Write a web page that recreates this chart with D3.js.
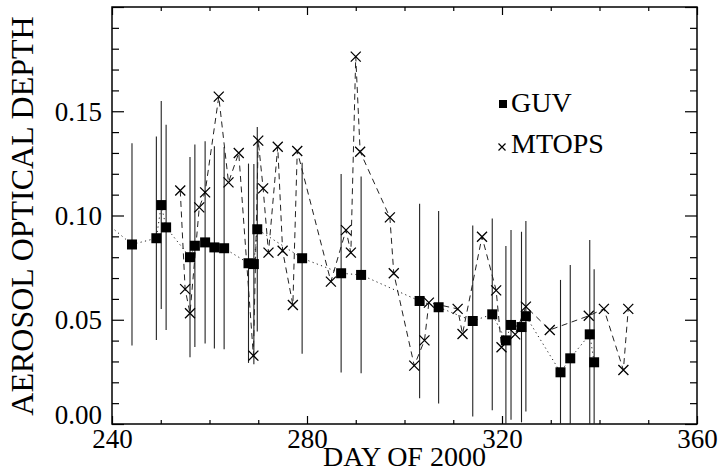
<!doctype html>
<html lang="en">
<head>
    <meta charset="UTF-8">
    <title>Aerosol optical depth, GUV and MTOPS, 2000</title>
    <style>
        body { margin: 0; background: #fff; }
        .chart { display: block; }
        text { font-family: "Liberation Serif", "Times New Roman", serif; fill: #000; }
        .axis path { display: none; }
        .axis line { stroke: #000; stroke-width: 1.2; }
    </style>
</head>
<body>
<svg class="chart"></svg>

<script src="https://d3js.org/d3.v7.min.js" charset="utf-8"></script>
<script>
    // GUV retrievals (day of year, AOD, error half-width). First point lies left of the frame.
    var guvDay = [237.0, 244.1, 249.1, 250.1, 251.1, 256.0, 257.0, 259.1, 261.0, 263.0, 268.0, 269.1, 269.8,
                  279.0, 287.0, 291.1, 303.1, 307.0, 314.0, 318.0, 320.8, 321.85, 324.0, 324.9, 332.0, 334.0,
                  338.0, 338.9];
    var guvAod = [0.100, 0.0861, 0.0891, 0.1050, 0.0943, 0.0800, 0.0855, 0.0871, 0.0847, 0.0843, 0.0771, 0.0767,
                  0.0934, 0.0795, 0.0723, 0.0715, 0.0590, 0.0560, 0.0494, 0.0526, 0.0401, 0.0475, 0.0465, 0.0517,
                  0.0248, 0.0315, 0.0430, 0.0296];
    var guvErr = [0.048, 0.0485, 0.0488, 0.0499, 0.0492, 0.0480, 0.0486, 0.0485, 0.0485, 0.0485, 0.0478, 0.0480,
                  0.0490, 0.0458, 0.0476, 0.0472, 0.0466, 0.0462, 0.0458, 0.0460, 0.0453, 0.0455, 0.0457, 0.0457,
                  0.0443, 0.0448, 0.0452, 0.0446];

    // MTOPS sun photometer
    var mtopsDay = [254.0, 255.0, 256.0, 257.9, 259.1, 261.9, 263.9, 266.0, 269.0, 270.0, 271.0, 272.1, 274.0,
                    275.0, 277.1, 278.0, 284.9, 288.0, 289.0, 290.0, 290.9, 297.0, 297.8, 302.0, 304.1, 305.0,
                    310.9, 311.9, 315.9, 318.8, 319.9, 322.7, 324.9, 329.8, 337.8, 340.9, 344.9, 345.9];
    var mtopsAod = [0.1120, 0.0647, 0.0531, 0.1039, 0.1111, 0.1570, 0.1159, 0.1300, 0.0328, 0.1359, 0.1130, 0.0822,
                    0.1330, 0.0831, 0.0571, 0.1309, 0.0683, 0.0930, 0.0822, 0.1762, 0.1306, 0.0991, 0.0723, 0.0280,
                    0.0401, 0.0582, 0.0552, 0.0432, 0.0898, 0.0641, 0.0368, 0.0430, 0.0563, 0.0451, 0.0519, 0.0552,
                    0.0259, 0.0552];

    var xMajor = [240, 280, 320, 360];
    var yMajor = [0.00, 0.05, 0.10, 0.15];

    var totalWidth = 720, totalHeight = 473;
    var margin = {top: 7, right: 23, bottom: 49, left: 112};
    var width = totalWidth - margin.left - margin.right;
    var height = totalHeight - margin.top - margin.bottom;

    var x = d3.scaleLinear().domain([240, 360]).range([0, width]);
    var y = d3.scaleLinear().domain([0, 0.2]).range([height, 0]);

    var svg = d3.select(".chart")
        .attr("width", totalWidth)
        .attr("height", totalHeight);

    var g = svg.append("g")
        .attr("transform", "translate(" + margin.left + "," + margin.top + ")");

    g.append("clipPath").attr("id", "plotclip")
        .append("rect").attr("width", width).attr("height", height);

    var guv = guvDay.map(function(d, i) { return {day: d, aod: guvAod[i], err: guvErr[i]}; });
    var mtops = mtopsDay.map(function(d, i) { return {day: d, aod: mtopsAod[i]}; });

    var xMinor = d3.range(250, 360, 10).filter(function(v) { return xMajor.indexOf(v) < 0; });
    var yMinor = d3.range(1, 20).map(function(v) { return v / 100; })
        .filter(function(v) { return v % 0.05 > 0.001 && v % 0.05 < 0.049; });

    // axes: ticks point inward on all four sides
    g.append("g").attr("class", "axis")
        .attr("transform", "translate(0," + height + ")")
        .call(d3.axisBottom(x).tickValues(xMajor).tickSize(-8).tickPadding(5).tickFormat(d3.format("d")))
        .selectAll("text").style("font-size", "27px");
    g.append("g").attr("class", "axis")
        .attr("transform", "translate(0," + height + ")")
        .call(d3.axisBottom(x).tickValues(xMinor).tickSize(-4).tickFormat(""));
    g.append("g").attr("class", "axis")
        .call(d3.axisTop(x).tickValues(xMajor).tickSize(-8).tickFormat(""));
    g.append("g").attr("class", "axis")
        .call(d3.axisTop(x).tickValues(xMinor).tickSize(-4).tickFormat(""));

    g.append("g").attr("class", "axis y")
        .call(d3.axisLeft(y).tickValues(yMajor).tickSize(-12).tickPadding(10).tickFormat(d3.format(".2f")))
        .selectAll("text")
        .style("font-size", "27px")
        .attr("dy", function(d) { return d === 0 ? "-0.02em" : "0.34em"; });
    g.append("g").attr("class", "axis")
        .call(d3.axisLeft(y).tickValues(yMinor).tickSize(-7).tickFormat(""));
    g.append("g").attr("class", "axis")
        .attr("transform", "translate(" + width + ",0)")
        .call(d3.axisRight(y).tickValues(yMajor.concat([0.2])).tickSize(-12).tickFormat(""));
    g.append("g").attr("class", "axis")
        .attr("transform", "translate(" + width + ",0)")
        .call(d3.axisRight(y).tickValues(yMinor).tickSize(-7).tickFormat(""));
    g.append("g").attr("class", "axis")
        .call(d3.axisLeft(y).tickValues([0.2]).tickSize(-12).tickFormat(""));

    // frame
    g.append("rect")
        .attr("width", width).attr("height", height)
        .attr("fill", "none").attr("stroke", "#000").attr("stroke-width", 1.5);

    // axis titles
    g.append("text")
        .attr("text-anchor", "middle")
        .attr("transform", "translate(" + (width / 2) + "," + (height + 42) + ")")
        .style("font-size", "28px")
        .text("DAY OF 2000");

    g.append("text")
        .attr("text-anchor", "middle")
        .attr("transform", "translate(" + (33 - margin.left) + "," + (216 - margin.top) + ") rotate(-90)")
        .style("font-size", "32px")
        .text("AEROSOL OPTICAL DEPTH");

    var plot = g.append("g").attr("clip-path", "url(#plotclip)");

    // GUV error bars
    plot.selectAll(".err").data(guv).enter()
        .append("line").attr("class", "err")
        .attr("x1", function(d) { return x(d.day); })
        .attr("x2", function(d) { return x(d.day); })
        .attr("y1", function(d) { return y(d.aod - d.err); })
        .attr("y2", function(d) { return y(d.aod + d.err); })
        .attr("stroke", "#222").attr("stroke-width", 1.1);

    var line = d3.line()
        .x(function(d) { return x(d.day); })
        .y(function(d) { return y(d.aod); });

    // GUV dotted, MTOPS dashed
    plot.append("path").datum(guv)
        .attr("d", line)
        .attr("fill", "none").attr("stroke", "#222").attr("stroke-width", 1)
        .attr("stroke-dasharray", "1.2,3.3");

    plot.append("path").datum(mtops)
        .attr("d", line)
        .attr("fill", "none").attr("stroke", "#222").attr("stroke-width", 1)
        .attr("stroke-dasharray", "6,4.5");

    // markers
    plot.selectAll(".sq").data(guv).enter()
        .append("rect").attr("class", "sq")
        .attr("x", function(d) { return x(d.day) - 5; })
        .attr("y", function(d) { return y(d.aod) - 5; })
        .attr("width", 10).attr("height", 10)
        .attr("fill", "#000");

    var cross = "M-5,-5L5,5M-5,5L5,-5";
    plot.selectAll(".cx").data(mtops).enter()
        .append("path").attr("class", "cx")
        .attr("transform", function(d) { return "translate(" + x(d.day) + "," + y(d.aod) + ")"; })
        .attr("d", cross)
        .attr("fill", "none").attr("stroke", "#000").attr("stroke-width", 1.3);

    // legend
    var leg = svg.append("g");
    leg.append("rect")
        .attr("x", 499).attr("y", 100).attr("width", 8).attr("height", 8)
        .attr("fill", "#000");
    leg.append("text")
        .attr("x", 511).attr("y", 112)
        .style("font-size", "28px")
        .text("GUV");
    leg.append("path")
        .attr("transform", "translate(502,147)")
        .attr("d", "M-3.5,-3.5L3.5,3.5M-3.5,3.5L3.5,-3.5")
        .attr("fill", "none").attr("stroke", "#000").attr("stroke-width", 1.2);
    leg.append("text")
        .attr("x", 511).attr("y", 153)
        .style("font-size", "28px")
        .text("MTOPS");
</script>
</body>
</html>
